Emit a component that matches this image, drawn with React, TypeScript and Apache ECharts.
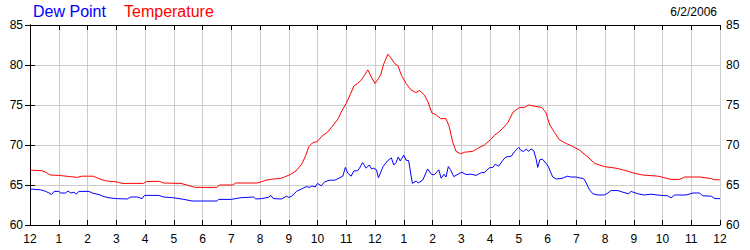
import React, { useEffect, useRef } from "react";
import * as echarts from "echarts";

const hourLabels = ["12", "1", "2", "3", "4", "5", "6", "7", "8", "9", "10", "11", "12", "1", "2", "3", "4", "5", "6", "7", "8", "9", "10", "11", "12"];
const legendNames = ["Dew Point", "Temperature"];
const dateLabel = "6/2/2006";

const temperature: number[][] = [
  [0, 66.85], [0.4, 66.8], [0.55, 66.6], [0.7, 66.25], [1.0, 66.2], [1.4, 66.05], [1.65, 65.95], [1.8, 66.1],
  [2.2, 66.1], [2.4, 65.8], [2.6, 65.55], [2.8, 65.45], [3.0, 65.4], [3.2, 65.2], [3.95, 65.2], [4.05, 65.45],
  [4.5, 65.45], [4.65, 65.25], [5.25, 65.2], [5.45, 65.0], [5.65, 64.8], [5.75, 64.7], [6.5, 64.7], [6.6, 65.0],
  [7.05, 65.0], [7.15, 65.25], [7.9, 65.25], [8.05, 65.4], [8.2, 65.6], [8.45, 65.75], [8.7, 65.8], [8.85, 66.0],
  [9.05, 66.3], [9.25, 66.75], [9.45, 67.6], [9.58, 68.6], [9.7, 69.8], [9.82, 70.25], [10.0, 70.45], [10.15, 71.1],
  [10.35, 71.6], [10.55, 72.5], [10.72, 73.3], [10.85, 74.3], [11.0, 75.2], [11.15, 76.4], [11.27, 77.4], [11.4, 77.7],
  [11.52, 78.1], [11.63, 78.7], [11.75, 79.4], [11.87, 78.5], [12.0, 77.7], [12.12, 78.3], [12.2, 78.8], [12.3, 80.1],
  [12.45, 81.35], [12.55, 80.9], [12.68, 80.2], [12.8, 79.9], [12.92, 78.7], [13.08, 77.7], [13.25, 76.9], [13.42, 76.55],
  [13.55, 76.8], [13.72, 76.25], [13.84, 75.4], [13.98, 74.0], [14.12, 73.8], [14.28, 73.3], [14.47, 73.3], [14.58, 72.3],
  [14.7, 70.4], [14.82, 69.2], [14.98, 68.9], [15.12, 69.1], [15.4, 69.2], [15.58, 69.6], [15.8, 70.0], [16.03, 70.7],
  [16.15, 71.2], [16.3, 71.6], [16.45, 72.1], [16.62, 72.8], [16.8, 74.1], [17.03, 74.7], [17.2, 74.7], [17.34, 75.0],
  [17.55, 74.85], [17.8, 74.7], [17.94, 74.1], [18.08, 72.5], [18.24, 71.6], [18.4, 70.7], [18.62, 70.25], [18.88, 69.8],
  [19.1, 69.4], [19.4, 68.5], [19.64, 67.7], [19.98, 67.3], [20.38, 67.1], [20.62, 66.9], [21.0, 66.5], [21.3, 66.25],
  [21.85, 66.1], [22.3, 65.7], [22.6, 65.7], [22.77, 66.0], [23.3, 66.0], [23.7, 65.8], [23.8, 65.65], [24, 65.65],
];

const dewPoint: number[][] = [
  [0, 64.5], [0.37, 64.4], [0.55, 64.2], [0.66, 64.0], [0.75, 63.8], [0.84, 64.2], [1.0, 64.2], [1.07, 64.0],
  [1.24, 64.0], [1.32, 64.25], [1.42, 64.0], [1.53, 64.1], [1.61, 63.85], [1.7, 64.2], [2.05, 64.2], [2.17, 64.0],
  [2.4, 63.8], [2.57, 63.55], [2.75, 63.4], [3.0, 63.3], [3.38, 63.25], [3.5, 63.5], [3.73, 63.5], [3.9, 63.3],
  [3.98, 63.7], [4.48, 63.7], [4.65, 63.5], [5.0, 63.4], [5.35, 63.2], [5.64, 63.0], [6.5, 63.0], [6.56, 63.2],
  [7.0, 63.2], [7.3, 63.4], [7.78, 63.5], [7.85, 63.25], [8.06, 63.3], [8.29, 63.45], [8.38, 63.7], [8.46, 63.3],
  [8.75, 63.25], [8.92, 63.6], [9.0, 63.45], [9.1, 63.6], [9.27, 64.2], [9.44, 64.5], [9.61, 64.8], [9.73, 64.7],
  [9.81, 64.9], [9.92, 64.75], [10.0, 65.2], [10.13, 64.9], [10.25, 65.4], [10.42, 65.6], [10.6, 65.6], [10.77, 65.9],
  [10.88, 66.1], [10.97, 67.2], [11.05, 66.5], [11.17, 66.1], [11.26, 66.75], [11.4, 66.8], [11.46, 67.1], [11.57, 67.8],
  [11.69, 67.1], [11.8, 67.5], [11.88, 67.0], [11.95, 67.1], [12.05, 66.9], [12.12, 65.9], [12.28, 67.3], [12.43, 68.0],
  [12.57, 68.4], [12.65, 67.5], [12.73, 67.8], [12.81, 68.5], [12.88, 68.0], [13.0, 68.75], [13.08, 68.1], [13.17, 68.05],
  [13.3, 65.2], [13.43, 65.5], [13.5, 65.25], [13.66, 65.6], [13.83, 67.0], [13.97, 66.3], [14.07, 66.3], [14.22, 66.9],
  [14.3, 65.85], [14.4, 66.35], [14.47, 66.0], [14.55, 67.3], [14.62, 66.95], [14.74, 66.05], [14.94, 66.45], [15.02, 66.6],
  [15.17, 66.3], [15.34, 66.35], [15.52, 66.2], [15.7, 66.55], [15.8, 66.55], [15.98, 67.15], [16.1, 67.2], [16.18, 67.6],
  [16.3, 67.35], [16.45, 68.1], [16.55, 68.5], [16.74, 68.6], [16.86, 69.2], [17.0, 69.7], [17.08, 69.3], [17.17, 69.2],
  [17.26, 69.5], [17.34, 69.2], [17.43, 69.5], [17.52, 69.3], [17.6, 68.3], [17.66, 67.2], [17.74, 68.2], [17.83, 68.2],
  [17.95, 67.7], [18.03, 67.3], [18.18, 66.0], [18.3, 65.75], [18.47, 65.8], [18.7, 66.1], [18.8, 66.0], [19.0, 66.0],
  [19.1, 65.9], [19.26, 65.8], [19.34, 65.3], [19.46, 64.4], [19.58, 63.9], [19.75, 63.75], [19.98, 63.75], [20.1, 64.0],
  [20.2, 64.3], [20.45, 64.3], [20.62, 64.1], [20.82, 63.9], [20.9, 64.2], [21.14, 63.9], [21.37, 63.75], [21.6, 63.85],
  [21.95, 63.7], [22.18, 63.65], [22.3, 63.4], [22.42, 63.75], [22.82, 63.75], [23.06, 64.0], [23.29, 64.0], [23.4, 63.65],
  [23.7, 63.6], [23.82, 63.3], [24, 63.3],
];

const FONT = "'Liberation Sans', Arial, sans-serif";

export default function App() {
  const ref = useRef<HTMLDivElement>(null);
  useEffect(() => {
    if (!ref.current) return;
    const chart = echarts.init(ref.current, undefined, { renderer: "svg" });
    const axisLine = { show: true, lineStyle: { color: "#000", width: 1 } };
    const tick = { show: true, inside: true, length: 5, lineStyle: { color: "#000", width: 1 } };
    const label = { color: "#000", fontSize: 12, fontFamily: FONT };
    chart.setOption({
      animation: false,
      backgroundColor: "#fff",
      grid: { left: 30, right: 30, top: 25, bottom: 25, containLabel: false },
      graphic: [
        { type: "text", left: 33, top: 3, style: { text: legendNames[0], fill: "#0000ff", font: `16px ${FONT}` } },
        { type: "text", left: 124, top: 3, style: { text: legendNames[1], fill: "#ff0000", font: `16px ${FONT}` } },
        { type: "text", right: 33, top: 6, style: { text: dateLabel, fill: "#000", font: `12px ${FONT}` } },
      ],
      xAxis: [
        {
          type: "value", min: 0, max: 24, interval: 1, position: "bottom",
          axisLine, axisTick: tick,
          axisLabel: { ...label, margin: 8, formatter: (v: number) => hourLabels[Math.round(v)] },
          splitLine: { show: true, lineStyle: { color: "#cccccc", width: 1 } },
        },
        {
          type: "value", min: 0, max: 24, interval: 1, position: "top",
          axisLine, axisTick: tick, axisLabel: { show: false }, splitLine: { show: false },
        },
      ],
      yAxis: [
        {
          type: "value", min: 60, max: 85, interval: 5, position: "left",
          axisLine, axisTick: tick, axisLabel: { ...label, margin: 7 },
          splitLine: { show: true, lineStyle: { color: "#cccccc", width: 1 } },
        },
        {
          type: "value", min: 60, max: 85, interval: 5, position: "right",
          axisLine, axisTick: tick, axisLabel: { ...label, margin: 6 },
          splitLine: { show: false },
        },
      ],
      series: [
        {
          name: legendNames[1], type: "line", data: temperature, showSymbol: false, symbol: "none",
          lineStyle: { color: "#ff0000", width: 1 }, itemStyle: { color: "#ff0000" },
        },
        {
          name: legendNames[0], type: "line", data: dewPoint, showSymbol: false, symbol: "none",
          lineStyle: { color: "#0000ff", width: 1 }, itemStyle: { color: "#0000ff" },
        },
      ],
    });
    return () => chart.dispose();
  }, []);
  return <div ref={ref} style={{ position: "fixed", left: 0, top: 0, width: 750, height: 250 }} />;
}
